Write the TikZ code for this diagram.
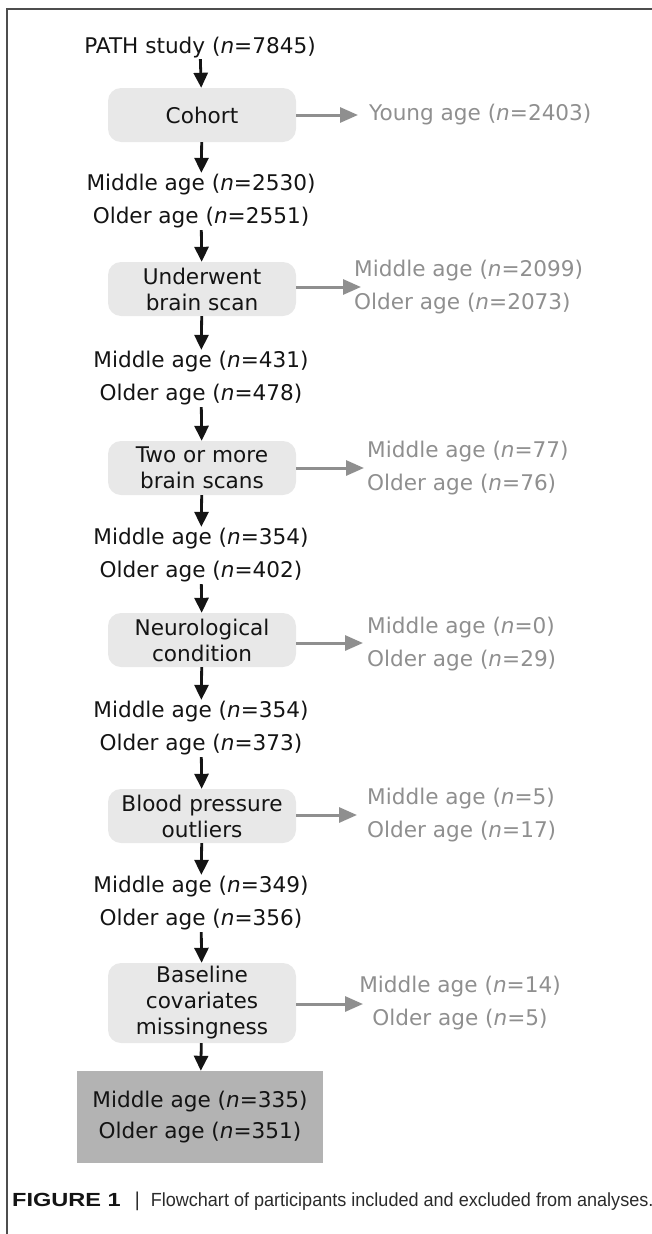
\documentclass[tikz,border=0pt]{standalone}
\usepackage{fontspec}
\setmainfont{DejaVu Sans}
\newfontfamily\capfont[FakeStretch=0.95]{Liberation Sans}
\newfontfamily\figfont[FakeStretch=1.24]{Liberation Sans}
\usetikzlibrary{arrows.meta}
\definecolor{boxgray}{HTML}{E8E8E8}
\definecolor{finalgray}{HTML}{B3B3B3}
\definecolor{exgray}{HTML}{8F8F8F}
\definecolor{ink}{HTML}{141414}
\definecolor{framec}{HTML}{4D4D4D}
\definecolor{capink}{HTML}{2B2B2B}
\begin{document}
\begin{tikzpicture}[x=1pt,y=-1pt,
  every node/.style={font=\fontsize{21.6}{26}\selectfont},
  single/.style={anchor=base, inner sep=1.5pt, text=ink},
  pair/.style={align=center, inner sep=1.5pt, text=ink, font=\fontsize{21.6}{33}\selectfont},
  expair/.style={align=left, inner sep=0pt, text=exgray, font=\fontsize{21.6}{33}\selectfont},
  stepbox/.style={fill=boxgray, rounded corners=13pt, minimum width=188pt, minimum height=54pt, align=center, text=ink, inner sep=0pt},
  finalbox/.style={fill=finalgray, minimum width=246pt, minimum height=92pt, align=center, text=ink, inner sep=0pt, font=\fontsize{21.6}{31}\selectfont},
  flow/.style={ink, line width=2.8pt, -{Triangle[length=15pt,width=14pt]}},
  exflow/.style={exgray, line width=3pt, -{Triangle[length=18pt,width=15pt]}}
]
\useasboundingbox (0,0) rectangle (651,1234);
% frame
\draw[framec, line width=2pt] (7,1234) -- (7,9) -- (652,9);

% main column
\node[single] (path) at (200,53) {PATH study (\textit{n}=7845)};
\node[stepbox] (cohort) at (202,115) {Cohort};
\node[pair] (p1) at (201,201.5) {Middle age (\textit{n}=2530)\\Older age (\textit{n}=2551)};
\node[stepbox] (scan) at (202,289) {Underwent\\brain scan};
\node[pair] (p2) at (201,378.5) {Middle age (\textit{n}=431)\\Older age (\textit{n}=478)};
\node[stepbox] (two) at (202,468) {Two or more\\brain scans};
\node[pair] (p3) at (201,555.5) {Middle age (\textit{n}=354)\\Older age (\textit{n}=402)};
\node[stepbox] (neuro) at (202,640) {Neurological\\condition};
\node[pair] (p4) at (201,728.5) {Middle age (\textit{n}=354)\\Older age (\textit{n}=373)};
\node[stepbox] (bp) at (202,816) {Blood pressure\\outliers};
\node[pair] (p5) at (201,903.5) {Middle age (\textit{n}=349)\\Older age (\textit{n}=356)};
\node[stepbox, minimum height=80pt] (base) at (202,1003) {Baseline\\covariates\\missingness};
\node[finalbox] (final) at (200,1117) {Middle age (\textit{n}=335)\\Older age (\textit{n}=351)};

\draw[flow] (path) -- (cohort);
\draw[flow] (cohort) -- (p1);
\draw[flow] (p1) -- (scan);
\draw[flow] (scan) -- (p2);
\draw[flow] (p2) -- (two);
\draw[flow] (two) -- (p3);
\draw[flow] (p3) -- (neuro);
\draw[flow] (neuro) -- (p4);
\draw[flow] (p4) -- (bp);
\draw[flow] (bp) -- (p5);
\draw[flow] (p5) -- (base);
\draw[flow] (base) -- (final);

% exclusions
\coordinate (e0) at (358,115);
\coordinate (e1) at (361,287);
\coordinate (e2) at (364,468);
\coordinate (e3) at (363,643);
\coordinate (e4) at (357,815);
\coordinate (e5) at (363,1004);
\node[anchor=base west, inner sep=0pt, text=exgray] (x0) at (369,120) {Young age (\textit{n}=2403)};
\node[expair, anchor=west] (x1) at (354,287.5) {Middle age (\textit{n}=2099)\\Older age (\textit{n}=2073)};
\node[expair, anchor=west] (x2) at (367,468.5) {Middle age (\textit{n}=77)\\Older age (\textit{n}=76)};
\node[expair, anchor=west] (x3) at (367,644.5) {Middle age (\textit{n}=0)\\Older age (\textit{n}=29)};
\node[expair, anchor=west] (x4) at (367,815.5) {Middle age (\textit{n}=5)\\Older age (\textit{n}=17)};
\node[expair, align=center] (x5) at (460,1003.5) {Middle age (\textit{n}=14)\\Older age (\textit{n}=5)};

\draw[exflow] (cohort.east |- e0) -- (e0);
\draw[exflow] (scan.east |- e1) -- (e1);
\draw[exflow] (two.east |- e2) -- (e2);
\draw[exflow] (neuro.east |- e3) -- (e3);
\draw[exflow] (bp.east |- e4) -- (e4);
\draw[exflow] (base.east |- e5) -- (e5);

% caption
\node[anchor=base west, inner sep=0pt, font=\capfont\fontsize{19}{22}\selectfont, text=capink] (cap) at (12,1206)
  {{\figfont\bfseries\color{ink}FIGURE 1}\hspace{14pt}{\fontsize{20}{22}\selectfont|}\hspace{11pt}Flowchart of participants included and excluded from analyses.};
\end{tikzpicture}
\end{document}
